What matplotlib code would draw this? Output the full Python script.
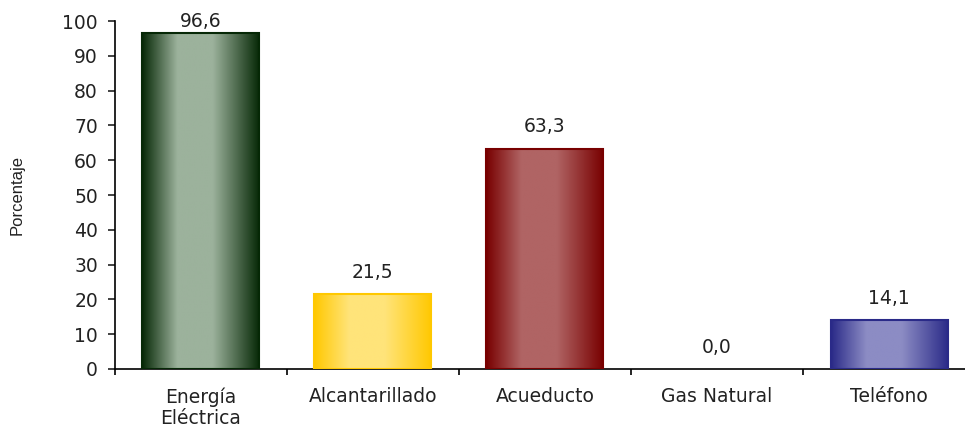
import numpy as np
import matplotlib.pyplot as plt
from matplotlib.colors import LinearSegmentedColormap

categories = ["Energía\nEléctrica", "Alcantarillado", "Acueducto", "Gas Natural", "Teléfono"]
values = [96.6, 21.5, 63.3, 0.0, 14.1]
# Gas Natural has no visible bar
edge_colors = ["#062806", "#ffc800", "#780000", "#ffffff", "#2a2a88"]
light_colors = ["#9cb29c", "#ffe47a", "#b06464", "#ffffff", "#8c8cc4"]

plt.rcParams['font.family'] = ['DejaVu Sans']

fig = plt.figure(figsize=(9.65, 4.29), dpi=100)
ax = fig.add_axes([0.1187, 0.1399, 0.892, 0.811])

x = np.arange(len(categories))
bars = ax.bar(x, values, width=0.68, color="none", edgecolor="none", zorder=2)

for bar, ec, lc, v in zip(bars, edge_colors, light_colors, values):
    if v <= 0:
        continue
    cmap = LinearSegmentedColormap.from_list(
        "g", [(0, ec), (0.3, lc), (0.6, lc), (1, ec)])
    grad = np.linspace(0, 1, 256).reshape(1, -1)
    x0, w, h = bar.get_x(), bar.get_width(), bar.get_height()
    ax.imshow(grad, cmap=cmap, aspect="auto", extent=(x0, x0 + w, 0, h),
              zorder=2, interpolation="bilinear")
    ax.add_patch(plt.Rectangle((x0, 0), w, h, fill=False, edgecolor=ec,
                               linewidth=1.5, zorder=3))

for xi, v in zip(x, values):
    ax.text(xi, min(v + 6.3, 100), f"{v:.1f}".replace(".", ","),
            ha="center", va="center", fontsize=13.5, color="#222222")

ax.set_xlim(-0.5, len(categories) - 0.5)
ax.set_ylim(0, 100)
ax.set_yticks(np.arange(0, 101, 10))
ax.tick_params(axis="y", direction="out", length=5, width=1.2,
               labelsize=13.5, pad=7, colors="#222222")

ax.set_xticks(np.arange(-0.5, len(categories), 1.0))
ax.set_xticklabels([])
ax.set_xticks(x, minor=True)
ax.set_xticklabels(categories, minor=True, fontsize=13.5, color="#222222",
                   linespacing=1.15)
ax.tick_params(axis="x", which="major", direction="out", length=4, width=1.2)
ax.tick_params(axis="x", which="minor", length=0, pad=13)

ax.set_ylabel("Porcentaje", fontsize=12, color="#222222",
              family="Liberation Sans")
ax.yaxis.set_label_coords(-0.104, 0.5)

for s in ["top", "right"]:
    ax.spines[s].set_visible(False)
for s in ["left", "bottom"]:
    ax.spines[s].set_linewidth(1.2)

fig.savefig("out.png", dpi=100)
